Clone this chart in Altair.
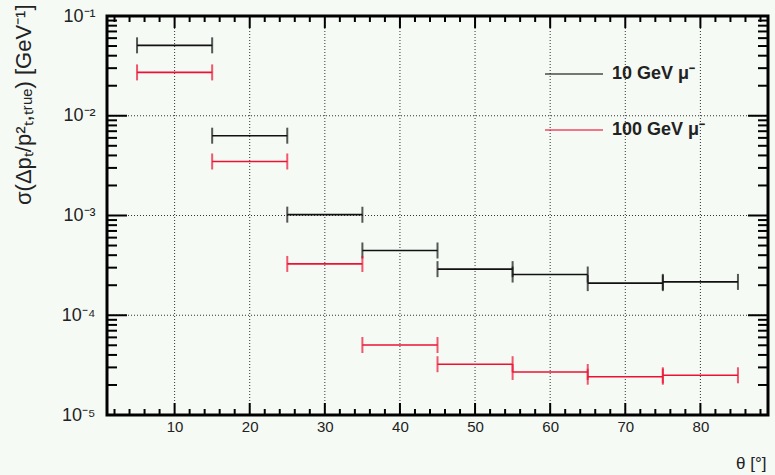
import altair as alt
import pandas as pd

# ---- data ----
theta_lo = [5, 15, 25, 35, 45, 55, 65, 75]
theta_hi = [15, 25, 35, 45, 55, 65, 75, 85]
sigma_10gev = [0.0508, 0.00631, 0.00102, 0.000446, 0.000290, 0.000256, 0.000210, 0.000216]
sigma_100gev = [0.0272, 0.00348, 0.000327, 0.0000503, 0.0000323, 0.0000270, 0.0000242, 0.0000250]
series_names = ["10 GeV \u03bc\u207b", "100 GeV \u03bc\u207b"]
series_colors = ["#111111", "#ee1133"]

x_major = [10, 20, 30, 40, 50, 60, 70, 80]
x_minor = [2, 4, 6, 8, 12, 14, 16, 18, 22, 24, 26, 28, 32, 34, 36, 38, 42, 44, 46, 48,
           52, 54, 56, 58, 62, 64, 66, 68, 72, 74, 76, 78, 82, 84, 86, 88]
y_major = [1e-5, 1e-4, 1e-3, 1e-2, 1e-1]
y_minor = [k * 10.0 ** e for e in range(-5, -1) for k in range(2, 10)]

W, H = 661, 399
FONT = "Liberation Sans"

rows = []
for name, vals in zip(series_names, [sigma_10gev, sigma_100gev]):
    for lo, hi, v in zip(theta_lo, theta_hi, vals):
        rows.append({"series": name, "lo": lo, "hi": hi, "sigma": v})
bars = pd.DataFrame(rows)
caps = pd.concat([
    bars.assign(x=bars["lo"]),
    bars.assign(x=bars["hi"]),
])

xs = alt.Scale(domain=[1, 89], nice=False, zero=False)
ys = alt.Scale(type="log", domain=[1e-5, 1e-1], nice=False)
cs = alt.Scale(domain=series_names, range=series_colors)

xmaj = pd.DataFrame({"v": x_major})
xmin = pd.DataFrame({"v": x_minor})
ymaj = pd.DataFrame({"v": y_major})
ymin = pd.DataFrame({"v": y_minor})

grid_x = alt.Chart(xmaj).mark_rule(color="#333", strokeDash=[1, 2], strokeWidth=1).encode(
    x=alt.X("v:Q", scale=xs,
            axis=alt.Axis(values=x_major, ticks=False, domain=False, grid=False,
                          labelFont=FONT, labelFontSize=15, labelColor="#222",
                          labelPadding=4, title="\u03b8 [\u00b0]", titleFont=FONT,
                          titleFontSize=17, titleFontWeight="normal", titleColor="#222",
                          titleAlign="right", titleAnchor="end", titleX=W - 2,
                          titleY=57, titleBaseline="bottom")),
)
grid_y = alt.Chart(pd.DataFrame({"v": y_major[1:-1]})).mark_rule(
    color="#333", strokeDash=[1, 2], strokeWidth=1).encode(
    y=alt.Y("v:Q", scale=ys,
            axis=alt.Axis(values=y_major, ticks=False, domain=False, grid=False,
                          labelExpr="'10' + ['\u207b\u2075','\u207b\u2074','\u207b\u00b3','\u207b\u00b2','\u207b\u00b9'][round(log(datum.value)/LN10)+5]",
                          labelFont=FONT, labelFontSize=18, labelColor="#222",
                          labelPadding=12,
                          title="\u03c3(\u0394p\u209c/p\u00b2\u209c,\u209c\u1d63\u1d64\u2091) [GeV\u207b\u00b9]",
                          titleFont=FONT, titleFontSize=22, titleFontWeight="normal",
                          titleColor="#222", titleAngle=-90, titleAlign="right",
                          titleX=-84, titleY=-12, titleBaseline="middle")),
)

bar_lines = alt.Chart(bars).mark_rule(strokeWidth=1.6).encode(
    x=alt.X("lo:Q", scale=xs), x2="hi:Q",
    y=alt.Y("sigma:Q", scale=ys),
    color=alt.Color("series:N", scale=cs, legend=None),
)
bar_caps = alt.Chart(caps).mark_tick(orient="vertical", size=16, thickness=2).encode(
    x=alt.X("x:Q", scale=xs),
    y=alt.Y("sigma:Q", scale=ys),
    color=alt.Color("series:N", scale=cs, legend=None),
)

def xticks(df, length):
    b = alt.Chart(df).mark_rule(color="black", strokeWidth=2).encode(
        x=alt.X("v:Q", scale=xs), y=alt.value(H), y2=alt.value(H - length))
    t = alt.Chart(df).mark_rule(color="black", strokeWidth=2).encode(
        x=alt.X("v:Q", scale=xs), y=alt.value(0), y2=alt.value(length))
    return [b, t]

def yticks(df, length):
    l = alt.Chart(df).mark_rule(color="black", strokeWidth=2).encode(
        y=alt.Y("v:Q", scale=ys), x=alt.value(0), x2=alt.value(length))
    r = alt.Chart(df).mark_rule(color="black", strokeWidth=2).encode(
        y=alt.Y("v:Q", scale=ys), x=alt.value(W), x2=alt.value(W - length))
    return [l, r]

tick_layers = xticks(xmaj, 12) + xticks(xmin, 6) + yticks(ymaj, 20) + yticks(ymin, 10)

legend_layers = []
for i, (name, col) in enumerate(zip(series_names, series_colors)):
    ly = 58 + 56 * i
    d = pd.DataFrame({"series": [name]})
    legend_layers.append(
        alt.Chart(d).mark_rule(strokeWidth=1.6, color=col, opacity=0.75).encode(
            x=alt.value(438), x2=alt.value(496), y=alt.value(ly))
    )
    legend_layers.append(
        alt.Chart(d).mark_text(align="left", baseline="middle", font=FONT,
                               fontSize=18, fontWeight="bold", color="#222").encode(
            x=alt.value(505), y=alt.value(ly), text="series:N")
    )

chart = alt.layer(
    grid_x, grid_y, bar_lines, bar_caps, *tick_layers, *legend_layers
).properties(
    width=W, height=H,
    autosize=alt.AutoSizeParams(type="none"),
    padding={"left": 107, "top": 16, "right": 7, "bottom": 60},
    background="#f5faf5",
).configure_view(stroke="black", strokeWidth=3)

chart.save("out.html", embed_options={"renderer": "svg", "actions": False})
